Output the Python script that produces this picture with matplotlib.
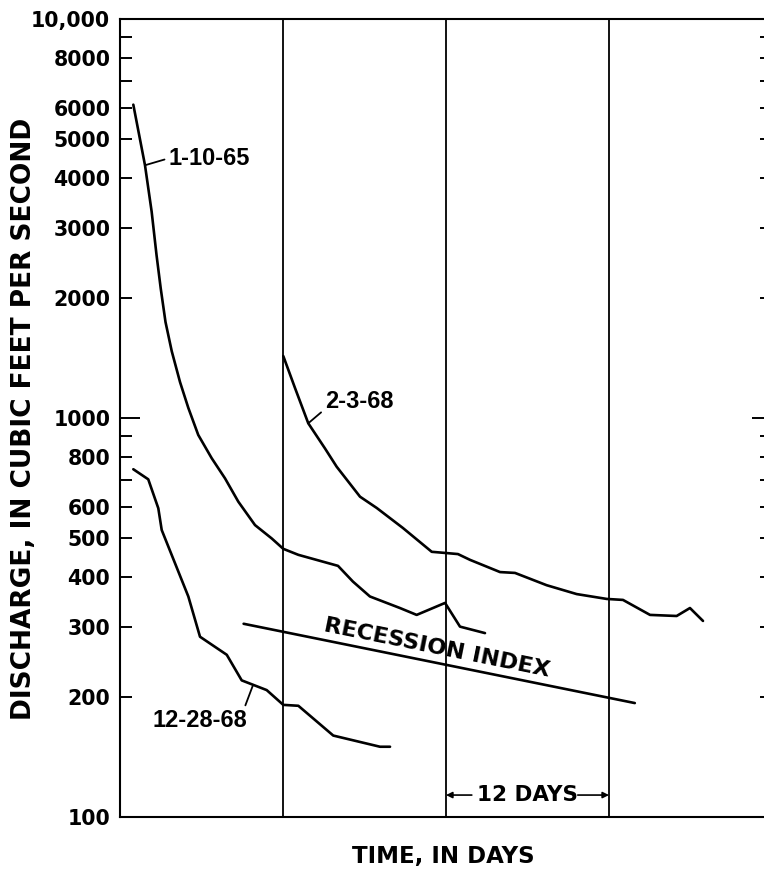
import numpy as np
import matplotlib.pyplot as plt

# recession curves, discharge in cubic feet per second against days
days_1_10_65 = [0.98, 1.84, 2.33, 2.69, 3.00, 3.35, 3.81, 4.42, 5.03, 5.76, 6.75, 7.73,
                8.71, 9.94, 11.17, 12.02, 13.13, 16.05, 17.15, 18.40, 20.61, 21.84,
                23.93, 25.03, 26.87]
q_1_10_65 = [6100, 4300, 3290, 2560, 2110, 1740, 1470, 1230, 1060, 907, 793, 706,
             617, 539, 499, 470, 454, 426, 389, 357, 334, 321, 344, 300, 289]

days_2_3_68 = [12.02, 12.88, 13.86, 15.09, 15.95, 17.67, 18.90, 20.83, 22.95, 23.93,
               24.88, 25.77, 27.98, 29.08, 31.41, 33.62, 35.83, 37.03, 39.02, 40.98,
               41.96, 42.92]
q_2_3_68 = [1430, 1190, 970, 839, 755, 635, 595, 530, 462, 459, 456, 441,
            411, 409, 381, 362, 352, 350, 321, 319, 334, 310]

days_12_28_68 = [0.98, 2.08, 2.82, 3.07, 5.03, 5.89, 7.86, 8.96, 10.80, 12.02, 13.13,
                 15.70, 19.14, 19.88]
q_12_28_68 = [744, 702, 594, 524, 357, 283, 255, 220, 208, 191, 190, 160, 150, 150]

recession_days = [9.1, 37.9]
recession_q = [305, 193]

grid_days = [12, 24, 36]

y_ticks = [100, 200, 300, 400, 500, 600, 700, 800, 900,
           2000, 3000, 4000, 5000, 6000, 7000, 8000, 9000, 10000]
y_tick_labels = ['100', '200', '300', '400', '500', '600', '', '800', '',
                 '2000', '3000', '4000', '5000', '6000', '', '8000', '', '10,000']

plt.rcParams['font.family'] = 'DejaVu Sans'
plt.rcParams['font.weight'] = 'bold'
label_font = dict(family='Liberation Sans', weight='bold', size=17)

fig = plt.figure(figsize=(7.64, 8.69), dpi=100)
ax = fig.add_axes([120 / 764, 52 / 869, 652 / 764, 798 / 869])
ax.set_yscale('log')
ax.set_xlim(0, 48)
ax.set_ylim(100, 10000)

ax.set_yticks([1000], ['1000'])
ax.set_yticks(y_ticks, y_tick_labels, minor=True)
ax.set_xticks([])
ax.tick_params(axis='y', which='both', direction='in', left=True, right=True,
               labelright=False, width=1.4, pad=7, labelsize=14.8, color='black')
ax.tick_params(axis='y', which='major', length=14.4)
ax.tick_params(axis='y', which='minor', length=8.6)
for side in ['left', 'top', 'bottom', 'right']:
    ax.spines[side].set_linewidth(1.5)

for d in grid_days:
    ax.axvline(d, color='black', lw=1.3)

line_kw = dict(color='black', lw=1.9, solid_joinstyle='round', solid_capstyle='round')
ax.plot(days_1_10_65, q_1_10_65, **line_kw)
ax.plot(days_2_3_68, q_2_3_68, **line_kw)
ax.plot(days_12_28_68, q_12_28_68, **line_kw)
ax.plot(recession_days, recession_q, **line_kw)

leader = dict(arrowstyle='-', color='black', lw=1.3, shrinkA=1, shrinkB=0)
ax.annotate('1-10-65', xy=(days_1_10_65[1], q_1_10_65[1]), xytext=(17, 5),
            textcoords='offset points', ha='left', va='center', **label_font,
            arrowprops=dict(leader, relpos=(0, 0.5)))
ax.annotate('2-3-68', xy=(days_2_3_68[2], q_2_3_68[2]), xytext=(12, 16),
            textcoords='offset points', ha='left', va='center', **label_font,
            arrowprops=dict(leader, relpos=(0, 0.15)))
x_lab = 9.8
q_lab = 10 ** np.interp(x_lab, days_12_28_68, np.log10(q_12_28_68))
ax.annotate('12-28-68', xy=(x_lab, q_lab), xytext=(-38, -26),
            textcoords='offset points', ha='center', va='center', **label_font,
            arrowprops=dict(leader, relpos=(0.95, 0.9)))

p0 = ax.transData.transform((recession_days[0], recession_q[0]))
p1 = ax.transData.transform((recession_days[1], recession_q[1]))
angle = np.degrees(np.arctan2(p1[1] - p0[1], p1[0] - p0[0]))
ax.text(23.3, 265, 'RECESSION INDEX', rotation=angle, rotation_mode='anchor',
        ha='center', va='center', fontsize=16.2)

ax.text(30, 113.5, '12 DAYS', ha='center', va='center', fontsize=15.5)
arrow = dict(arrowstyle='-|>', color='black', lw=1.2, shrinkA=0, shrinkB=0, mutation_scale=9)
ax.annotate('', xy=(24, 113.5), xytext=(25.9, 113.5), arrowprops=arrow)
ax.annotate('', xy=(36, 113.5), xytext=(33.7, 113.5), arrowprops=arrow)

fig.text(24 / 764, 1 - 419 / 869, 'DISCHARGE, IN CUBIC FEET PER SECOND', rotation=90,
         ha='center', va='center', fontsize=19)
fig.text(443 / 764, 1 - 857 / 869, 'TIME, IN DAYS', ha='center', va='center', fontsize=16.5)

fig.savefig('out.png', dpi=100)
plt.close(fig)
